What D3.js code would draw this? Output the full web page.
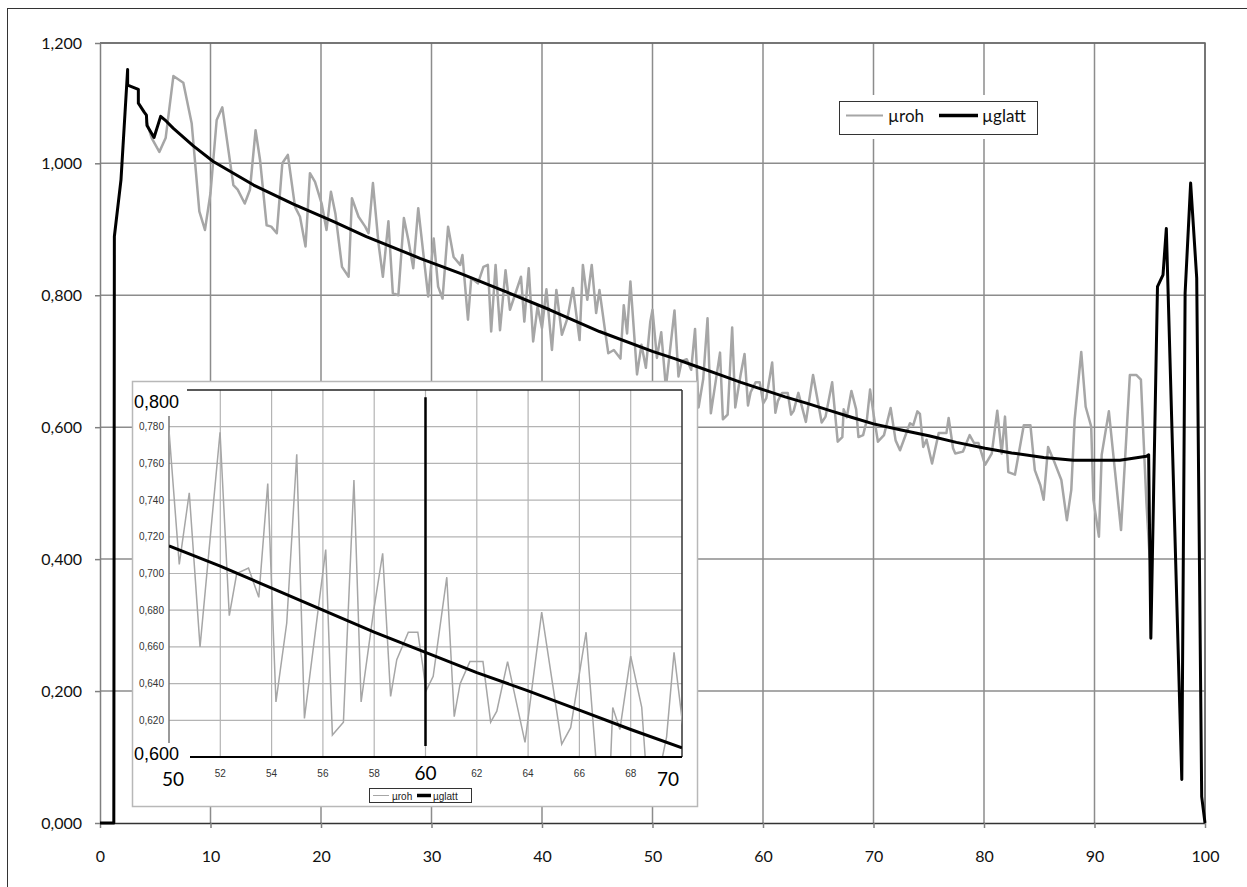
<!DOCTYPE html>
<html>
<head>
<meta charset="utf-8">
<script src="https://cdn.jsdelivr.net/npm/d3@7"></script>
<style>
    body { margin: 0; background: #fff; }
    svg { display: block; }
</style>
</head>
<body>
<div id="chart"></div>
<script>
// µroh: raw values (x position, value)
const rohX = [
    4.2, 4.68, 5.37, 5.94, 6.64, 7.54, 8.3, 8.99, 9.5, 10.0,
    10.56, 11.07, 12.07, 12.46, 13.1, 13.57, 14.08, 14.48, 15.08, 15.5,
    16.0, 16.5, 17.0, 17.65, 18.1, 18.6, 19.0, 19.46, 20.06, 20.5,
    20.9, 21.3, 21.9, 22.5, 22.8, 23.4, 24.0, 24.3, 24.7, 25.2,
    25.6, 26.1, 26.5, 27.0, 27.5, 27.9, 28.35, 28.8, 29.7, 30.2,
    30.6, 31.0, 31.5, 32.0, 32.6, 32.8, 33.3, 33.6, 34.2, 34.7,
    35.1, 35.4, 35.8, 36.2, 36.7, 37.1, 37.6, 38.1, 38.4, 38.8,
    39.2, 39.6, 40.0, 40.4, 40.9, 41.3, 41.8, 42.3, 42.8, 43.4,
    43.7, 44.1, 44.5, 44.9, 45.2, 45.7, 46.0, 46.5, 47.1, 47.4,
    47.7, 48.0, 48.6, 49.0, 49.4, 49.8, 50.0, 50.4, 50.79, 51.21,
    51.99, 52.35, 52.64, 53.1, 53.5, 53.85, 54.17, 54.59, 54.98, 55.28,
    56.11, 56.37, 56.8, 57.21, 57.49, 57.97, 58.33, 58.64, 58.88, 59.33,
    59.7, 59.89, 60.02, 60.3, 60.83, 61.12, 61.35, 61.73, 62.24, 62.54,
    62.78, 63.2, 63.88, 64.53, 65.31, 65.66, 66.26, 66.76, 67.18, 67.3,
    67.58, 68.0, 68.43, 68.64, 69.06, 69.4, 69.69, 70.04, 70.4, 70.95,
    71.55, 72.0, 72.4, 73.3, 73.6, 73.97, 74.2, 74.5, 74.8, 75.3,
    75.9, 76.6, 76.8, 77.2, 77.4, 78.1, 78.7, 79.1, 79.5, 80.1,
    80.7, 81.2, 81.6, 81.9, 82.2, 82.8, 83.6, 84.2, 84.6, 85.1,
    85.4, 85.8, 86.3, 87.0, 87.5, 87.9, 88.2, 88.8, 89.2, 89.7,
    89.9, 90.4, 90.65, 91.3, 92.4, 93.2, 93.8, 94.2, 94.7, 95.0
];
const rohY = [
    1.070, 1.042, 1.019, 1.042, 1.145, 1.134, 1.066, 0.927, 0.899, 0.955,
    1.072, 1.093, 0.967, 0.960, 0.939, 0.960, 1.055, 1.006, 0.906, 0.904,
    0.894, 1.000, 1.014, 0.934, 0.919, 0.874, 0.985, 0.972, 0.939, 0.899,
    0.957, 0.924, 0.843, 0.828, 0.947, 0.919, 0.904, 0.894, 0.970, 0.879,
    0.828, 0.912, 0.803, 0.800, 0.917, 0.884, 0.841, 0.932, 0.798, 0.886,
    0.813, 0.795, 0.904, 0.858, 0.846, 0.861, 0.763, 0.826, 0.818, 0.843,
    0.846, 0.745, 0.846, 0.747, 0.838, 0.778, 0.803, 0.828, 0.760, 0.841,
    0.730, 0.783, 0.750, 0.809, 0.717, 0.808, 0.740, 0.765, 0.811, 0.732,
    0.846, 0.793, 0.846, 0.773, 0.808, 0.747, 0.712, 0.717, 0.704, 0.785,
    0.742, 0.821, 0.680, 0.725, 0.690, 0.760, 0.778, 0.705, 0.744, 0.660,
    0.777, 0.677, 0.700, 0.703, 0.687, 0.749, 0.630, 0.673, 0.765, 0.621,
    0.713, 0.612, 0.619, 0.751, 0.630, 0.679, 0.711, 0.633, 0.653, 0.668,
    0.668, 0.650, 0.636, 0.644, 0.698, 0.622, 0.640, 0.652, 0.652, 0.619,
    0.625, 0.652, 0.608, 0.679, 0.607, 0.616, 0.668, 0.578, 0.585, 0.627,
    0.615, 0.655, 0.627, 0.585, 0.588, 0.611, 0.657, 0.616, 0.578, 0.588,
    0.629, 0.580, 0.565, 0.606, 0.603, 0.624, 0.620, 0.570, 0.581, 0.545,
    0.591, 0.591, 0.614, 0.568, 0.560, 0.563, 0.588, 0.576, 0.576, 0.543,
    0.560, 0.625, 0.560, 0.616, 0.532, 0.528, 0.603, 0.603, 0.535, 0.512,
    0.490, 0.570, 0.550, 0.520, 0.459, 0.505, 0.611, 0.714, 0.631, 0.601,
    0.490, 0.434, 0.558, 0.624, 0.444, 0.679, 0.679, 0.672, 0.485, 0.400
];

// µglatt: smoothed values
const glattX = [
    0, 1.25, 1.3, 1.9, 2.5, 2.5, 3.47, 3.47, 4.0, 4.2,
    4.25, 4.89, 5.49, 6.0, 6.64, 8.44, 10.25, 13.9, 17.5, 21.1,
    24.1, 28.96, 32.6, 36.2, 40.7, 45.2, 50, 52, 54, 56,
    58, 60, 62, 64, 66, 68, 70, 72.4, 75, 77.5,
    80.1, 82.5, 85.4, 88.1, 92.3, 94.7, 94.9, 95.1, 95.7, 96.2,
    96.5, 97.9, 98.2, 98.7, 99.25, 99.7, 100
];
const glattY = [
    0, 0, 0.889, 0.975, 1.156, 1.130, 1.123, 1.100, 1.085, 1.080,
    1.063, 1.043, 1.078, 1.070, 1.058, 1.029, 1.003, 0.967, 0.938, 0.912,
    0.889, 0.856, 0.833, 0.809, 0.778, 0.745, 0.715, 0.704, 0.692, 0.680,
    0.668, 0.657, 0.646, 0.636, 0.6255, 0.615, 0.605, 0.596, 0.587, 0.577,
    0.568, 0.561, 0.554, 0.550, 0.550, 0.556, 0.558, 0.280, 0.813, 0.831,
    0.901, 0.066, 0.803, 0.970, 0.826, 0.040, 0
];

const seriesNames = ['µroh', 'µglatt'];
const xTicks = [0, 10, 20, 30, 40, 50, 60, 70, 80, 90, 100];
const yTicks = [0, 0.2, 0.4, 0.6, 0.8, 1.0, 1.2];

// inset (zoom on 50..70)
const insetXDomain = [50, 70];
const insetYDomain = [0.6, 0.8];
const insetXTicks = [52, 54, 56, 58, 60, 62, 64, 66, 68];
const insetYTicks = [0.62, 0.64, 0.66, 0.68, 0.70, 0.72, 0.74, 0.76, 0.78];
const insetBigX = [50, 60, 70];
const insetBigY = [0.8, 0.6];
const insetMarkerX = 60;
const insetMarkerY = [0.606, 0.796];

const width = 1247;
const height = 887;
const fmt3 = d => d3.format('.3f')(d).replace('.', ',');
const calib = 'Lato, "Open Sans", sans-serif';
const arial = '"Liberation Sans", Arial, sans-serif';

const svg = d3.select('#chart')
    .append('svg')
    .attr('width', width)
    .attr('height', height);

// outer chart frame
svg.append('rect')
    .attr('x', 7.5).attr('y', 8.5)
    .attr('width', 1260).attr('height', 900)
    .attr('fill', 'none')
    .attr('stroke', '#333')
    .attr('stroke-width', 1);

const x = d3.scaleLinear().domain([0, 100]).range([100, 1205]);
const y = d3.scaleLinear().domain([0, 1.0, 1.2]).range([823, 163.3, 43]);

// gridlines
const grid = svg.append('g').attr('stroke', '#8c8c8c').attr('stroke-width', 1.5);
grid.selectAll('.vg')
    .data(xTicks.slice(1))
    .enter()
    .append('line')
    .attr('x1', d => x(d)).attr('x2', d => x(d))
    .attr('y1', y(1.2)).attr('y2', y(0));
grid.selectAll('.hg')
    .data(yTicks.slice(1))
    .enter()
    .append('line')
    .attr('x1', x(0)).attr('x2', x(100))
    .attr('y1', d => y(d)).attr('y2', d => y(d));

// top / right plot border
svg.append('path')
    .attr('d', `M${x(0)},${y(1.2)}H${x(100)}V${y(0)}`)
    .attr('fill', 'none')
    .attr('stroke', '#666')
    .attr('stroke-width', 1.5);

const yAxis = d3.axisLeft(y)
    .tickValues(yTicks)
    .tickSize(5)
    .tickSizeOuter(0)
    .tickPadding(13)
    .tickFormat(fmt3);
const xAxis = d3.axisBottom(x)
    .tickValues(xTicks)
    .tickSize(5)
    .tickSizeOuter(0)
    .tickPadding(23)
    .tickFormat(d => d);

const gy = svg.append('g')
    .attr('transform', `translate(${x(0)},0)`)
    .call(yAxis);
gy.select('.domain').attr('stroke', '#808080').attr('stroke-width', 1.5);
gy.selectAll('.tick line').attr('stroke', '#808080').attr('stroke-width', 1.5);
gy.selectAll('text').attr('font-family', calib).attr('font-size', 16).attr('fill', '#111');

const gx = svg.append('g')
    .attr('transform', `translate(0,${y(0)})`)
    .call(xAxis);
gx.select('.domain').attr('stroke', '#333').attr('stroke-width', 1.5);
gx.selectAll('.tick line').attr('stroke', '#808080').attr('stroke-width', 1.5);
gx.selectAll('text').attr('font-family', calib).attr('font-size', 16).attr('fill', '#111');

const rohData = d3.zip(rohX, rohY);
const glattData = d3.zip(glattX, glattY);

const line = d3.line().x(d => x(d[0])).y(d => y(d[1]));

svg.append('path')
    .datum(rohData)
    .attr('d', line)
    .attr('fill', 'none')
    .attr('stroke', '#a6a6a6')
    .attr('stroke-width', 2.5)
    .attr('stroke-linejoin', 'round');

svg.append('path')
    .datum(glattData)
    .attr('d', line)
    .attr('fill', 'none')
    .attr('stroke', '#000')
    .attr('stroke-width', 3)
    .attr('stroke-linejoin', 'round');

// main legend
const legend = svg.append('g');
legend.append('rect')
    .attr('x', 834).attr('y', 95).attr('width', 208).attr('height', 44)
    .attr('fill', '#fff');
legend.append('rect')
    .attr('x', 839.5).attr('y', 101.5).attr('width', 198).attr('height', 33)
    .attr('fill', '#fff').attr('stroke', '#333').attr('stroke-width', 1);
legend.append('line')
    .attr('x1', 846).attr('x2', 883).attr('y1', 115.5).attr('y2', 115.5)
    .attr('stroke', '#a6a6a6').attr('stroke-width', 2);
legend.append('text')
    .attr('x', 888).attr('y', 121.5)
    .attr('font-family', calib).attr('font-size', 17).attr('fill', '#111')
    .text(seriesNames[0]);
legend.append('line')
    .attr('x1', 939).attr('x2', 978).attr('y1', 115.5).attr('y2', 115.5)
    .attr('stroke', '#000').attr('stroke-width', 3.5);
legend.append('text')
    .attr('x', 982).attr('y', 121.5)
    .attr('font-family', calib).attr('font-size', 17).attr('fill', '#111')
    .text(seriesNames[1]);

// ---------- inset ----------
const inset = svg.append('g');
inset.append('rect')
    .attr('x', 132.5).attr('y', 381.5).attr('width', 565).attr('height', 425)
    .attr('fill', '#fff').attr('stroke', '#b8b8b8').attr('stroke-width', 1.5);

const ix = d3.scaleLinear().domain(insetXDomain).range([169, 682]);
const iy = d3.scaleLinear().domain(insetYDomain).range([757, 390]);

const igrid = inset.append('g').attr('stroke', '#b4b4b4').attr('stroke-width', 1.2);
igrid.selectAll('.ivg')
    .data(insetXTicks)
    .enter()
    .append('line')
    .attr('x1', d => ix(d)).attr('x2', d => ix(d))
    .attr('y1', iy(0.8)).attr('y2', iy(0.6));
igrid.selectAll('.ihg')
    .data(insetYTicks)
    .enter()
    .append('line')
    .attr('x1', ix(50)).attr('x2', ix(70))
    .attr('y1', d => iy(d)).attr('y2', d => iy(d));

// inset frame pieces
inset.append('line')
    .attr('x1', 187).attr('x2', ix(70)).attr('y1', iy(0.8)).attr('y2', iy(0.8))
    .attr('stroke', '#222').attr('stroke-width', 1.5);
inset.append('line')
    .attr('x1', ix(70)).attr('x2', ix(70)).attr('y1', iy(0.8)).attr('y2', iy(0.6))
    .attr('stroke', '#333').attr('stroke-width', 1.5);
inset.append('line')
    .attr('x1', ix(50)).attr('x2', ix(50)).attr('y1', 416).attr('y2', 743)
    .attr('stroke', '#777').attr('stroke-width', 1.5);

svg.append('clipPath')
    .attr('id', 'insetClip')
    .append('rect')
    .attr('x', ix(50)).attr('y', iy(0.8))
    .attr('width', ix(70) - ix(50)).attr('height', iy(0.6) - iy(0.8));

const iline = d3.line().x(d => ix(d[0])).y(d => iy(d[1]));
const inRange = d => d[0] >= 49 && d[0] <= 71;

inset.append('path')
    .datum(rohData.filter(inRange))
    .attr('d', iline)
    .attr('clip-path', 'url(#insetClip)')
    .attr('fill', 'none')
    .attr('stroke', '#a6a6a6')
    .attr('stroke-width', 1.5);

inset.append('path')
    .datum(glattData.filter(inRange))
    .attr('d', iline)
    .attr('clip-path', 'url(#insetClip)')
    .attr('fill', 'none')
    .attr('stroke', '#000')
    .attr('stroke-width', 3);

// marker at 60
inset.append('line')
    .attr('x1', ix(insetMarkerX)).attr('x2', ix(insetMarkerX))
    .attr('y1', iy(insetMarkerY[1])).attr('y2', iy(insetMarkerY[0]))
    .attr('stroke', '#000').attr('stroke-width', 2.5);

// bottom axis line
inset.append('line')
    .attr('x1', 190).attr('x2', ix(70)).attr('y1', iy(0.6)).attr('y2', iy(0.6))
    .attr('stroke', '#000').attr('stroke-width', 2);

// small tick labels
inset.selectAll('.iyl')
    .data(insetYTicks)
    .enter()
    .append('text')
    .attr('x', 164)
    .attr('y', d => iy(d) + 3.5)
    .attr('text-anchor', 'end')
    .attr('font-family', arial).attr('font-size', 10).attr('fill', '#333')
    .text(fmt3);
inset.selectAll('.ixl')
    .data(insetXTicks.filter(d => !insetBigX.includes(d)))
    .enter()
    .append('text')
    .attr('x', d => ix(d))
    .attr('y', 777)
    .attr('text-anchor', 'middle')
    .attr('font-family', arial).attr('font-size', 10).attr('fill', '#333')
    .text(d => d);

// big labels
inset.selectAll('.iby')
    .data(insetBigY)
    .enter()
    .append('text')
    .attr('x', 134)
    .attr('y', d => d === 0.8 ? iy(d) + 18 : iy(d) + 3)
    .attr('font-family', arial).attr('font-size', 18).attr('fill', '#000')
    .text(fmt3);
inset.selectAll('.ibx')
    .data(insetBigX)
    .enter()
    .append('text')
    .attr('x', d => Math.min(Math.max(ix(d), 173), 668))
    .attr('y', d => d === 60 ? 780 : 786)
    .attr('text-anchor', 'middle')
    .attr('font-family', calib).attr('font-size', 19).attr('fill', '#000')
    .text(d => d);

// inset legend
const ileg = inset.append('g');
ileg.append('rect')
    .attr('x', 369.5).attr('y', 788.5).attr('width', 102).attr('height', 14)
    .attr('fill', '#fff').attr('stroke', '#333').attr('stroke-width', 1);
ileg.append('line')
    .attr('x1', 373).attr('x2', 389).attr('y1', 795.5).attr('y2', 795.5)
    .attr('stroke', '#a6a6a6').attr('stroke-width', 1);
ileg.append('text')
    .attr('x', 392).attr('y', 799.5)
    .attr('font-family', arial).attr('font-size', 10).attr('fill', '#222')
    .text(seriesNames[0]);
ileg.append('line')
    .attr('x1', 417).attr('x2', 431).attr('y1', 795.5).attr('y2', 795.5)
    .attr('stroke', '#000').attr('stroke-width', 3.5);
ileg.append('text')
    .attr('x', 433).attr('y', 799.5)
    .attr('font-family', arial).attr('font-size', 10).attr('fill', '#222')
    .text(seriesNames[1]);
</script>
</body>
</html>
